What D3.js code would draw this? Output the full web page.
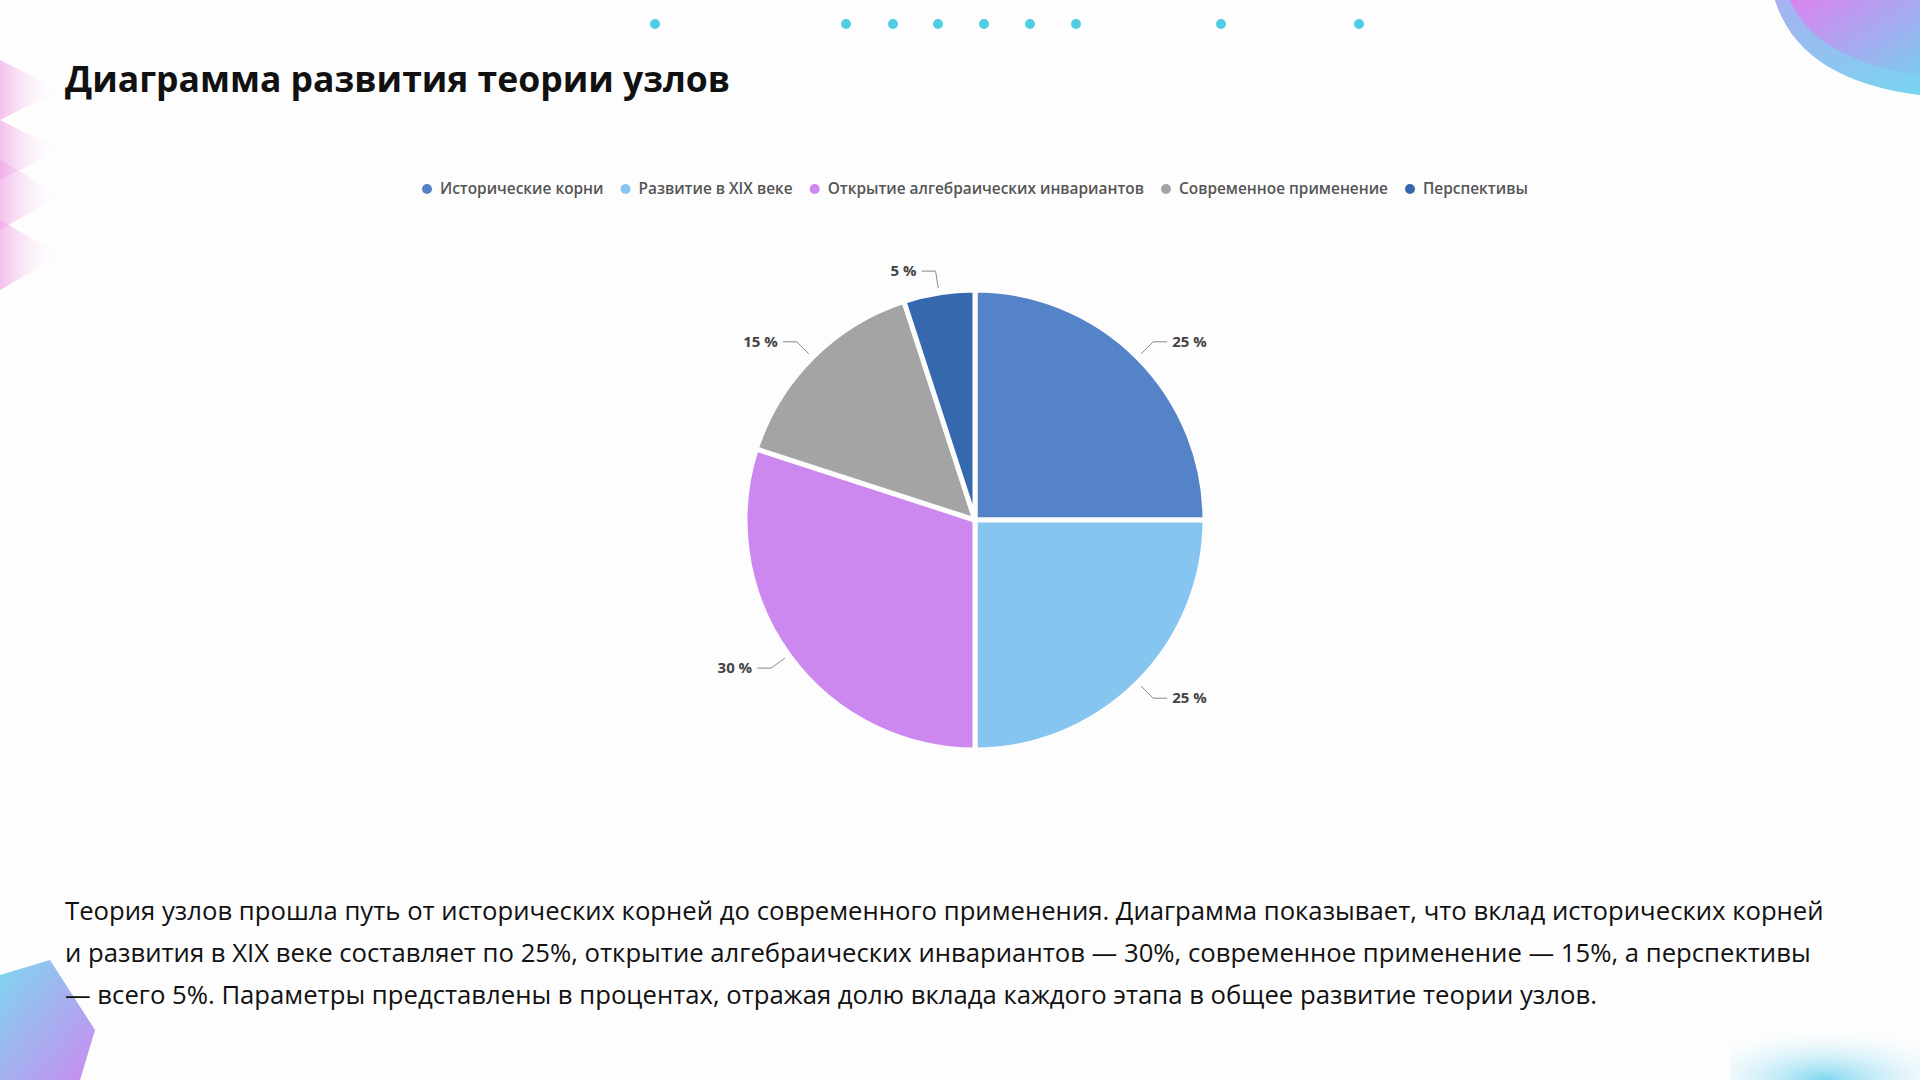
<!DOCTYPE html>
<html>
<head>
<meta charset="utf-8">
<script src="https://cdn.jsdelivr.net/npm/d3@7"></script>
<style>
  body { margin: 0; background: #fdfdfd; font-family: "Open Sans", Lato, sans-serif; }
  svg { display: block; }
</style>
</head>
<body>
<svg id="chart" width="1920" height="1080"></svg>
<script>
var categories = ["Исторические корни", "Развитие в XIX веке", "Открытие алгебраических инвариантов", "Современное применение", "Перспективы"];
var values = [25, 25, 30, 15, 5];
var colors = ["#5483c8", "#86c5ef", "#cd88f0", "#a4a4a4", "#3568ad"];
var dotsX = [655, 846, 893, 938, 984, 1030, 1076, 1221, 1359];
var paragraph = [
  "Теория узлов прошла путь от исторических корней до современного применения. Диаграмма показывает, что вклад исторических корней",
  "и развития в XIX веке составляет по 25%, открытие алгебраических инвариантов — 30%, современное применение — 15%, а перспективы",
  "— всего 5%. Параметры представлены в процентах, отражая долю вклада каждого этапа в общее развитие теории узлов."
];

var svg = d3.select("#chart");
var defs = svg.append("defs");

// decorations
var g1 = defs.append("linearGradient").attr("id", "gTop").attr("x1", 0).attr("y1", 0).attr("x2", 1).attr("y2", 1);
g1.append("stop").attr("offset", 0).attr("stop-color", "#e27ef0");
g1.append("stop").attr("offset", 1).attr("stop-color", "#6fd3ef");
svg.append("path").attr("d", "M1775,0 Q1800,80 1920,95 L1920,0 Z").attr("fill", "url(#gTop)");
svg.append("path").attr("d", "M1790,0 Q1815,60 1920,75 L1920,95 Q1800,80 1775,0 Z").attr("fill", "#7fd6f0").attr("opacity", 0.6);

var g2 = defs.append("linearGradient").attr("id", "gLeft").attr("x1", 0).attr("y1", 0).attr("x2", 1).attr("y2", 0);
g2.append("stop").attr("offset", 0).attr("stop-color", "#f0a6e6").attr("stop-opacity", 0.7);
g2.append("stop").attr("offset", 1).attr("stop-color", "#fff").attr("stop-opacity", 0);
[[60, 120], [120, 180], [160, 230], [220, 290]].forEach(function (r) {
  svg.append("path").attr("d", "M0," + r[0] + " L60," + (r[0] + r[1]) / 2 + " L0," + r[1] + " Z").attr("fill", "url(#gLeft)");
});

var g3 = defs.append("linearGradient").attr("id", "gBL").attr("x1", 0).attr("y1", 0).attr("x2", 1).attr("y2", 1);
g3.append("stop").attr("offset", 0).attr("stop-color", "#7fd6f0");
g3.append("stop").attr("offset", 1).attr("stop-color", "#c98bef");
svg.append("path").attr("d", "M0,975 L50,960 L95,1030 L80,1080 L0,1080 Z").attr("fill", "url(#gBL)");

var g4 = defs.append("radialGradient").attr("id", "gBR").attr("cx", 0.5).attr("cy", 1).attr("r", 0.8);
g4.append("stop").attr("offset", 0).attr("stop-color", "#7fd6f0");
g4.append("stop").attr("offset", 1).attr("stop-color", "#fff").attr("stop-opacity", 0);
svg.append("rect").attr("x", 1730).attr("y", 1010).attr("width", 190).attr("height", 70).attr("fill", "url(#gBR)");

svg.selectAll(".dot").data(dotsX).enter().append("circle")
  .attr("cx", function (d) { return d; }).attr("cy", 24).attr("r", 5).attr("fill", "#4fcde6");

// title
svg.append("text").attr("x", 65).attr("y", 92)
  .style("font-size", "35.5px").style("font-weight", "bold").style("fill", "#111")
  .text("Диаграмма развития теории узлов");

// legend
var legend = svg.append("g").attr("transform", "translate(0,189)");
var lx = 422;
categories.forEach(function (c, i) {
  legend.append("circle").attr("cx", lx + 5).attr("cy", 0).attr("r", 5).attr("fill", colors[i]);
  var t = legend.append("text").attr("x", lx + 18).attr("y", 5)
    .style("font-size", "15.4px").style("font-weight", 600).style("fill", "#555").text(c);
  lx += 18 + t.node().getComputedTextLength() + 17;
});

// pie
var cx = 975, cy = 520, R = 230;
var pie = d3.pie().sort(null).value(function (d) { return d; });
var arcs = pie(values);
var arc = d3.arc().innerRadius(0).outerRadius(R);
var pg = svg.append("g").attr("transform", "translate(" + cx + "," + cy + ")");
pg.selectAll("path").data(arcs).enter().append("path")
  .attr("d", arc).attr("fill", function (d, i) { return colors[i]; })
  .attr("stroke", "#fdfdfd").attr("stroke-width", 5).attr("stroke-linejoin", "round");

arcs.forEach(function (d) {
  var a = (d.startAngle + d.endAngle) / 2;
  var sx = Math.sin(a), sy = -Math.cos(a);
  var p1 = [sx * (R + 5), sy * (R + 5)];
  var p2 = [sx * (R + 22), sy * (R + 22)];
  var right = sx >= 0;
  var p3 = [p2[0] + (right ? 14 : -14), p2[1]];
  pg.append("polyline").attr("points", [p1, p2, p3].map(function (p) { return p.join(","); }).join(" "))
    .attr("fill", "none").attr("stroke", "#888").attr("stroke-width", 1);
  pg.append("text").attr("x", p3[0] + (right ? 5 : -5)).attr("y", p3[1] + 5)
    .attr("text-anchor", right ? "start" : "end")
    .style("font-size", "15px").style("font-weight", "bold").style("fill", "#444")
    .text(d.data + " %");
});

// paragraph
svg.selectAll(".para").data(paragraph).enter().append("text")
  .attr("x", 65).attr("y", function (d, i) { return 920 + i * 42; })
  .style("font-size", "25.7px").style("fill", "#111")
  .text(function (d) { return d; });
</script>
</body>
</html>
